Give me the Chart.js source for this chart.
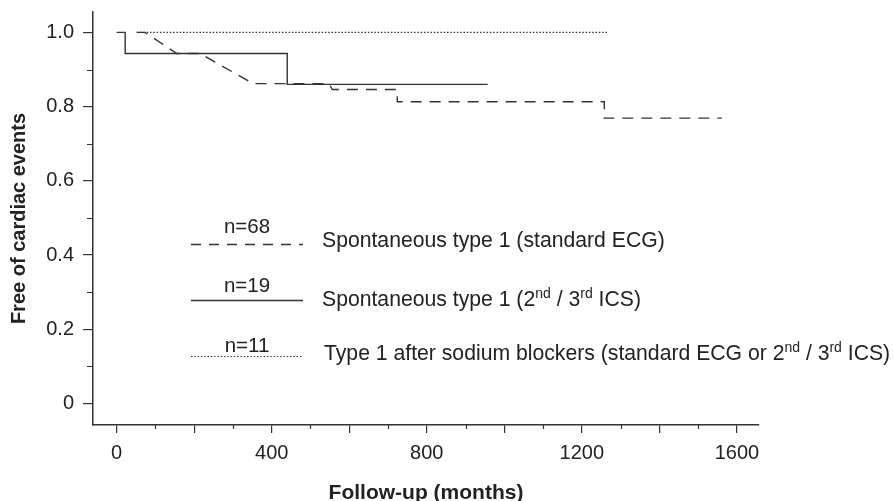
<!DOCTYPE html>
<html>
<head>
<meta charset="utf-8">
<script src="https://cdn.jsdelivr.net/npm/chart.js@4.4.1/dist/chart.umd.min.js"></script>
<style>
  html, body { margin: 0; padding: 0; background: #fff; }
  #wrap { width: 893px; height: 501px; position: relative; }
</style>
</head>
<body>
<div id="wrap"><canvas id="km" width="893" height="501"></canvas></div>
<script>
// Kaplan-Meier curves (x in months, y = fraction free of events)
const stdEcgX = [52, 73, 155, 215, 352, 548, 556, 706, 724, 724, 1258, 1258, 1561];
const stdEcgY = [1.0, 1.0, 0.943, 0.943, 0.862, 0.862, 0.846, 0.846, 0.846, 0.813, 0.813, 0.769, 0.769];

const icsX = [0, 22, 22, 440, 440, 957];
const icsY = [1.0, 1.0, 0.943, 0.943, 0.86, 0.86];

const sodiumX = [52, 1268];
const sodiumY = [1.0, 1.0];

// axis ticks
const xMajorTicks = [0, 200, 400, 600, 800, 1000, 1200, 1400, 1600];
const xMinorTicks = [100, 300, 500, 700, 900, 1100, 1300, 1500];
const yMajorTicks = [0, 0.2, 0.4, 0.6, 0.8, 1.0];
const yMinorTicks = [0.1, 0.3, 0.5, 0.7, 0.9];

// legend
const legendCounts = ["n=68", "n=19", "n=11"];
const legendTexts = [
  [["Spontaneous type 1 (standard ECG)", false]],
  [["Spontaneous type 1 (2", false], ["nd", true], [" / 3", false], ["rd", true], [" ICS)", false]],
  [["Type 1 after sodium blockers (standard ECG or 2", false], ["nd", true], [" / 3", false], ["rd", true], [" ICS)", false]]
];

const ink = "#333";
const textInk = "#222";
const FONT = "'Liberation Sans', Arial, sans-serif";

function toPoints(xs, ys) {
  return xs.map((x, i) => ({ x: x, y: ys[i] }));
}

// minor ticks (shorter than the major ones) and the in-plot legend
const extras = {
  id: "extras",
  afterDraw(chart) {
    const ctx = chart.ctx;
    const xs = chart.scales.x, ys = chart.scales.y;
    const area = chart.chartArea;
    ctx.save();
    ctx.strokeStyle = ink;
    ctx.lineWidth = 1.2;
    ctx.beginPath();
    xMinorTicks.forEach(v => {
      const px = Math.round(xs.getPixelForValue(v)) + 0.5;
      ctx.moveTo(px, area.bottom);
      ctx.lineTo(px, area.bottom + 4);
    });
    yMinorTicks.forEach(v => {
      const py = Math.round(ys.getPixelForValue(v)) + 0.5;
      ctx.moveTo(area.left, py);
      ctx.lineTo(area.left - 6, py);
    });
    ctx.stroke();

    // legend samples
    const rows = [
      { y: 244, dash: [10, 8], width: 1.4, nBase: 233, tBase: 247 },
      { y: 300, dash: [], width: 1.4, nBase: 292, tBase: 306 },
      { y: 356, dash: [1.5, 1.8], width: 1.1, nBase: 352, tBase: 360 }
    ];
    rows.forEach((r, i) => {
      ctx.beginPath();
      ctx.setLineDash(r.dash);
      ctx.lineWidth = r.width;
      ctx.moveTo(191, r.y + 0.5);
      ctx.lineTo(303, r.y + 0.5);
      ctx.stroke();
      ctx.setLineDash([]);

      ctx.fillStyle = textInk;
      ctx.textBaseline = "alphabetic";
      ctx.textAlign = "center";
      ctx.font = "20.5px " + FONT;
      ctx.fillText(legendCounts[i], 247, r.nBase);

      ctx.textAlign = "left";
      let x = i === 2 ? 324 : 322;
      legendTexts[i].forEach(([txt, sup]) => {
        ctx.font = (sup ? "14px " : "21.2px ") + FONT;
        ctx.fillText(txt, x, sup ? r.tBase - 8 : r.tBase);
        x += ctx.measureText(txt).width;
      });
    });
    ctx.restore();
  }
};

new Chart(document.getElementById("km"), {
  type: "line",
  data: {
    datasets: [
      {
        label: "Spontaneous type 1 (standard ECG)",
        data: toPoints(stdEcgX, stdEcgY),
        borderColor: ink,
        borderWidth: 1.4,
        borderDash: [11, 8],
        pointRadius: 0,
        tension: 0
      },
      {
        label: "Spontaneous type 1 (2nd / 3rd ICS)",
        data: toPoints(icsX, icsY),
        borderColor: ink,
        borderWidth: 1.4,
        pointRadius: 0,
        tension: 0
      },
      {
        label: "Type 1 after sodium blockers",
        data: toPoints(sodiumX, sodiumY),
        borderColor: ink,
        borderWidth: 1.1,
        borderDash: [1.5, 1.8],
        pointRadius: 0,
        tension: 0
      }
    ]
  },
  options: {
    responsive: false,
    animation: false,
    devicePixelRatio: 1,
    layout: { padding: { top: 12, right: 134, left: 0, bottom: 0 } },
    plugins: { legend: { display: false }, tooltip: { enabled: false } },
    scales: {
      x: {
        type: "linear",
        min: -61,
        max: 1657,
        afterFit: s => { s.height = 76; s.paddingLeft = 0; s.paddingRight = 0; },
        afterBuildTicks: s => { s.ticks = xMajorTicks.map(v => ({ value: v })); },
        ticks: {
          color: textInk,
          font: { family: FONT, size: 20 },
          padding: 8,
          maxRotation: 0,
          autoSkip: false,
          callback: v => (v % 400 === 0 ? String(v) : "")
        },
        grid: { drawOnChartArea: false, drawTicks: true, tickLength: 8, color: ink, lineWidth: 1.2 },
        border: { display: true, color: ink, width: 1.5 },
        title: {
          display: true,
          text: "Follow-up (months)",
          color: textInk,
          font: { family: FONT, size: 21, weight: "bold", lineHeight: 1 },
          padding: { top: 0, bottom: -3 }
        }
      },
      y: {
        type: "linear",
        min: -0.058,
        max: 1.055,
        afterFit: s => { s.width = 93; s.paddingTop = 0; s.paddingBottom = 0; },
        afterBuildTicks: s => { s.ticks = yMajorTicks.map(v => ({ value: v })); },
        ticks: {
          color: textInk,
          font: { family: FONT, size: 20 },
          padding: 9,
          autoSkip: false,
          callback: v => (Math.abs(v) < 1e-9 ? "0" : v.toFixed(1))
        },
        grid: { drawOnChartArea: false, drawTicks: true, tickLength: 10, color: ink, lineWidth: 1.2 },
        border: { display: true, color: ink, width: 1.5 },
        title: {
          display: true,
          text: "Free of cardiac events",
          color: textInk,
          font: { family: FONT, size: 20, weight: "bold", lineHeight: 1.2 },
          padding: { top: 7, bottom: 0 }
        }
      }
    }
  },
  plugins: [extras]
});
</script>
</body>
</html>
